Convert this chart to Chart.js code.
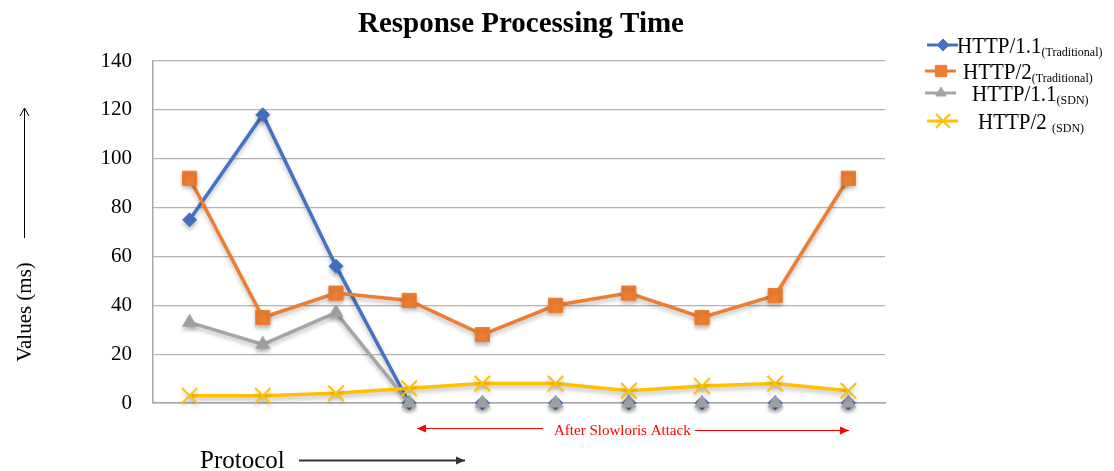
<!DOCTYPE html>
<html>
<head>
<meta charset="utf-8">
<script src="https://cdn.jsdelivr.net/npm/chart.js@4.4.0/dist/chart.umd.min.js"></script>
<style>
  html, body { margin: 0; padding: 0; background: #fff; }
  #wrap { width: 1114px; height: 471px; position: relative; }
</style>
</head>
<body>
<div id="wrap"><canvas id="myChart"></canvas></div>
<script>
// data
const categories = ['1', '2', '3', '4', '5', '6', '7', '8', '9', '10'];
const http11Trad = [75, 118, 56, 0, 0, 0, 0, 0, 0, 0];
const http2Trad  = [92, 35, 45, 42, 28, 40, 45, 35, 44, 92];
const http11Sdn  = [33, 24, 37, 0, 0, 0, 0, 0, 0, 0];
const http2Sdn   = [3, 3, 4, 6, 8, 8, 5, 7, 8, 5];
const yTicks = [0, 20, 40, 60, 80, 100, 120, 140];

const SERIF = '"Liberation Serif", "Times New Roman", serif';

const legendItems = [
  { main: 'HTTP/1.1', sub: '(Traditional)', color: '#4472C4', style: 'rectRot', r: 6, lx: 927, y: 45, tx: 957 },
  { main: 'HTTP/2', sub: '(Traditional)', color: '#ED7D31', style: 'rect', r: 8, lx: 925, y: 71, tx: 963 },
  { main: 'HTTP/1.1', sub: '(SDN)', color: '#A5A5A5', style: 'triangle', r: 6, lx: 925, y: 93, tx: 972 },
  { main: 'HTTP/2 ', sub: '(SDN)', color: '#FFC000', style: 'crossRot', r: 10, lx: 927, y: 121, tx: 978 }
];

function arrow(ctx, x1, y1, x2, y2, color, w, head) {
  ctx.save();
  ctx.strokeStyle = color;
  ctx.fillStyle = color;
  ctx.lineWidth = w;
  ctx.beginPath();
  ctx.moveTo(x1, y1);
  ctx.lineTo(x2, y2);
  ctx.stroke();
  const a = Math.atan2(y2 - y1, x2 - x1);
  ctx.beginPath();
  ctx.moveTo(x2, y2);
  ctx.lineTo(x2 - head * Math.cos(a) + head * 0.45 * Math.sin(a), y2 - head * Math.sin(a) - head * 0.45 * Math.cos(a));
  ctx.lineTo(x2 - head * Math.cos(a) - head * 0.45 * Math.sin(a), y2 - head * Math.sin(a) + head * 0.45 * Math.cos(a));
  ctx.closePath();
  ctx.fill();
  ctx.restore();
}

const shadowPlugin = {
  id: 'shadow',
  beforeDatasetsDraw(chart) {
    const ctx = chart.ctx;
    ctx.save();
    ctx.shadowColor = 'rgba(0,0,0,0.25)';
    ctx.shadowBlur = 4;
    ctx.shadowOffsetY = 3;
  },
  afterDatasetsDraw(chart) {
    chart.ctx.restore();
  }
};

const extras = {
  id: 'extras',
  afterDraw(chart) {
    const ctx = chart.ctx;
    ctx.save();

    // title
    ctx.fillStyle = '#000';
    ctx.font = 'bold 29px ' + SERIF;
    ctx.textAlign = 'center';
    ctx.textBaseline = 'alphabetic';
    ctx.fillText('Response Processing Time', 521, 32);

    // y axis title with arrow
    ctx.save();
    ctx.translate(31, 312);
    ctx.rotate(-Math.PI / 2);
    ctx.font = '21px ' + SERIF;
    ctx.textAlign = 'center';
    ctx.fillText('Values (ms)', 0, 0);
    ctx.restore();
    ctx.save();
    ctx.strokeStyle = '#000';
    ctx.lineWidth = 1;
    ctx.beginPath();
    ctx.moveTo(24.5, 238);
    ctx.lineTo(24.5, 108);
    ctx.moveTo(20, 116);
    ctx.lineTo(24.5, 108);
    ctx.lineTo(29, 116);
    ctx.stroke();
    ctx.restore();

    // x axis title with arrow
    ctx.font = '25px ' + SERIF;
    ctx.textAlign = 'left';
    ctx.fillStyle = '#000';
    ctx.fillText('Protocol', 200, 468);
    arrow(ctx, 299, 460.5, 465, 460.5, '#333', 2, 9);

    // slowloris annotation
    ctx.fillStyle = '#FF0000';
    ctx.font = '15px ' + SERIF;
    ctx.fillText('After Slowloris Attack', 554, 435);
    arrow(ctx, 543, 428.5, 417, 428.5, '#FF0000', 1.2, 9);
    arrow(ctx, 695, 430.5, 849, 430.5, '#FF0000', 1.2, 9);

    // legend
    legendItems.forEach(it => {
      ctx.strokeStyle = it.color;
      ctx.fillStyle = it.color;
      ctx.lineWidth = 3;
      ctx.beginPath();
      ctx.moveTo(it.lx, it.y);
      ctx.lineTo(it.lx + 31, it.y);
      ctx.stroke();
      ctx.lineWidth = it.style === 'crossRot' ? 2 : 1;
      Chart.helpers.drawPoint(ctx, {
        pointStyle: it.style, radius: it.r, rotation: 0, borderWidth: ctx.lineWidth
      }, it.lx + 16, it.y);

      ctx.fillStyle = '#000';
      ctx.textAlign = 'left';
      const baseY = it.y + 8;
      ctx.save();
      ctx.translate(it.tx, baseY);
      ctx.scale(1, 1.12);
      ctx.font = '21px ' + SERIF;
      ctx.fillText(it.main, 0, 0);
      const w = ctx.measureText(it.main).width;
      ctx.font = '12px ' + SERIF;
      ctx.fillText(it.sub, w, 3);
      ctx.restore();
    });

    ctx.restore();
  }
};

// segments lying flat on the zero axis are not visible in the original
const hideFlatZero = {
  borderColor: c => (c.p0.parsed.y === 0 && c.p1.parsed.y === 0) ? 'rgba(0,0,0,0)' : undefined
};

function makeSet(label, values, color, style, radius, order) {
  return {
    label: label,
    data: values,
    borderColor: color,
    backgroundColor: color,
    pointBackgroundColor: color,
    pointBorderColor: color,
    pointStyle: style,
    pointRadius: radius,
    pointBorderWidth: style === 'crossRot' ? 2 : 1,
    borderWidth: 3.5,
    tension: 0,
    clip: false,
    segment: hideFlatZero,
    order: order
  };
}

const ctx = document.getElementById('myChart');
new Chart(ctx, {
  type: 'line',
  data: {
    labels: categories,
    datasets: [
      makeSet('HTTP/1.1 (Traditional)', http11Trad, '#4472C4', 'rectRot', 7, 3),
      makeSet('HTTP/2 (Traditional)', http2Trad, '#ED7D31', 'rect', 10, 2),
      makeSet('HTTP/1.1 (SDN)', http11Sdn, '#A5A5A5', 'triangle', 8, 1),
      makeSet('HTTP/2 (SDN)', http2Sdn, '#FFC000', 'crossRot', 11, 0)
    ]
  },
  options: {
    responsive: true,
    maintainAspectRatio: false,
    animation: false,
    layout: { padding: { top: 61, right: 229, bottom: 68, left: 0 } },
    plugins: {
      legend: { display: false },
      title: { display: false },
      tooltip: { enabled: false }
    },
    scales: {
      x: {
        offset: true,
        grid: { display: false },
        border: { display: true, color: '#a6a6a6', width: 1.5 },
        ticks: { display: false },
        afterFit(s) { s.height = 0; }
      },
      y: {
        min: 0,
        max: 140,
        afterBuildTicks(s) { s.ticks = yTicks.map(v => ({ value: v })); },
        grid: { color: '#b4b4b4', lineWidth: 1.2, drawTicks: false },
        border: { display: true, color: '#a6a6a6', width: 1.5 },
        ticks: {
          padding: 21,
          color: '#000',
          font: { family: SERIF, size: 21 }
        },
        afterFit(s) { s.width = 153; }
      }
    }
  },
  plugins: [shadowPlugin, extras]
});
</script>
</body>
</html>
